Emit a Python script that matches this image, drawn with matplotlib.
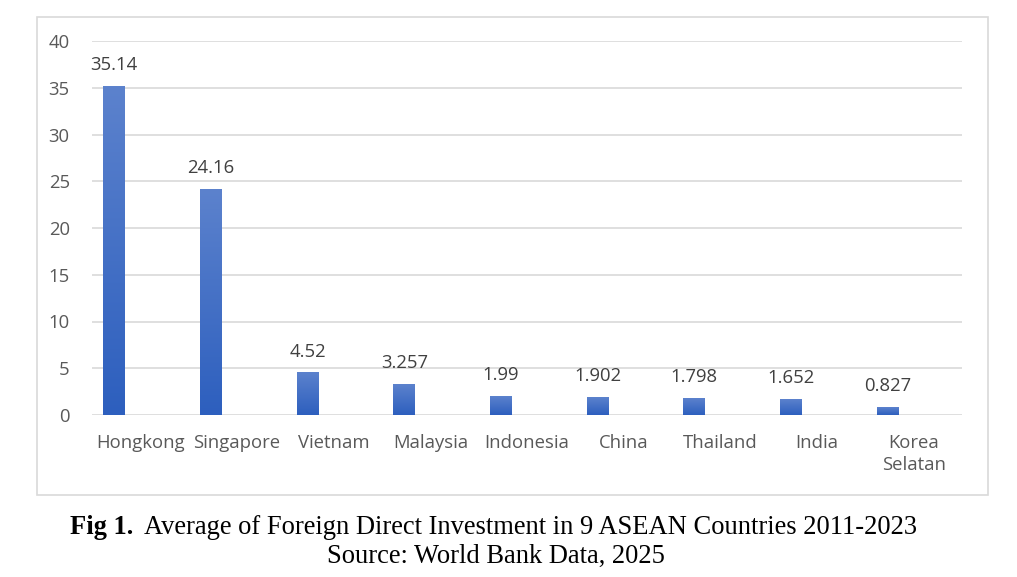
import numpy as np
import matplotlib.pyplot as plt
from matplotlib.patches import Rectangle
from matplotlib.colors import LinearSegmentedColormap

countries = ["Hongkong", "Singapore", "Vietnam", "Malaysia", "Indonesia",
             "China", "Thailand", "India", "Korea\nSelatan"]
fdi = [35.14, 24.16, 4.52, 3.257, 1.99, 1.902, 1.798, 1.652, 0.827]
fdi_labels = ["35.14", "24.16", "4.52", "3.257", "1.99", "1.902", "1.798", "1.652", "0.827"]
yticks = [0, 5, 10, 15, 20, 25, 30, 35, 40]

fig = plt.figure(figsize=(10.17, 5.77), dpi=100)

# chart frame
frame = Rectangle((37 / 1017, 1 - 495 / 577), (988 - 37) / 1017, (495 - 17) / 577,
                  transform=fig.transFigure, fill=False, edgecolor="#d9d9d9", lw=1.2)
fig.patches.append(frame)

ax = fig.add_axes([92 / 1017, 1 - 415 / 577, 870 / 1017, (415 - 41) / 577])
x = np.arange(len(countries))
ax.set_xlim(-0.5, len(countries) - 0.5)
ax.set_ylim(0, 40)

offset = -0.27
width = 0.225
cmap = LinearSegmentedColormap.from_list("bar", ["#2d5fbe", "#5c82cd"])
grad = np.linspace(0, 1, 256).reshape(-1, 1)
for xi, v in zip(x, fdi):
    left = xi + offset - width / 2
    ax.imshow(grad, extent=(left, left + width, 0, v), origin="lower",
              cmap=cmap, aspect="auto", zorder=3)
ax.set_xlim(-0.5, len(countries) - 0.5)
ax.set_ylim(0, 40)

fs = 13.3
for xi, v, lab in zip(x, fdi, fdi_labels):
    ax.text(xi + offset, v + 1.3, lab, ha="center", va="bottom",
            fontsize=fs, color="#404040", family="Open Sans")

ax.set_yticks(yticks)
ax.set_yticklabels([str(t) for t in yticks], fontsize=fs, color="#595959", family="Open Sans")
ax.set_xticks(x)
ax.set_xticklabels(countries, fontsize=fs, color="#595959", family="Open Sans", linespacing=1.25)
ax.tick_params(axis="both", length=0)
ax.tick_params(axis="x", pad=14)
ax.tick_params(axis="y", pad=16)
ax.grid(axis="y", color="#d9d9d9", lw=1.2)
ax.set_axisbelow(True)
for s in ax.spines.values():
    s.set_visible(False)

# caption: bold "Fig 1." followed by normal text
cap_fs = 19.1
cap_y = 1 - 528 / 577
t1 = fig.text(70 / 1017, cap_y, "Fig 1.", ha="left", va="center", fontsize=cap_fs,
              fontweight="bold", family="Liberation Serif")
fig.canvas.draw()
bb = t1.get_window_extent()
fig.text((bb.x1 + 11) / 1017, cap_y,
         "Average of Foreign Direct Investment in 9 ASEAN Countries 2011-2023",
         ha="left", va="center", fontsize=cap_fs, family="Liberation Serif")
fig.text(496 / 1017, 1 - 556 / 577, "Source: World Bank Data, 2025",
         ha="center", va="center", fontsize=cap_fs, family="Liberation Serif")

fig.savefig("out.png", dpi=100)
